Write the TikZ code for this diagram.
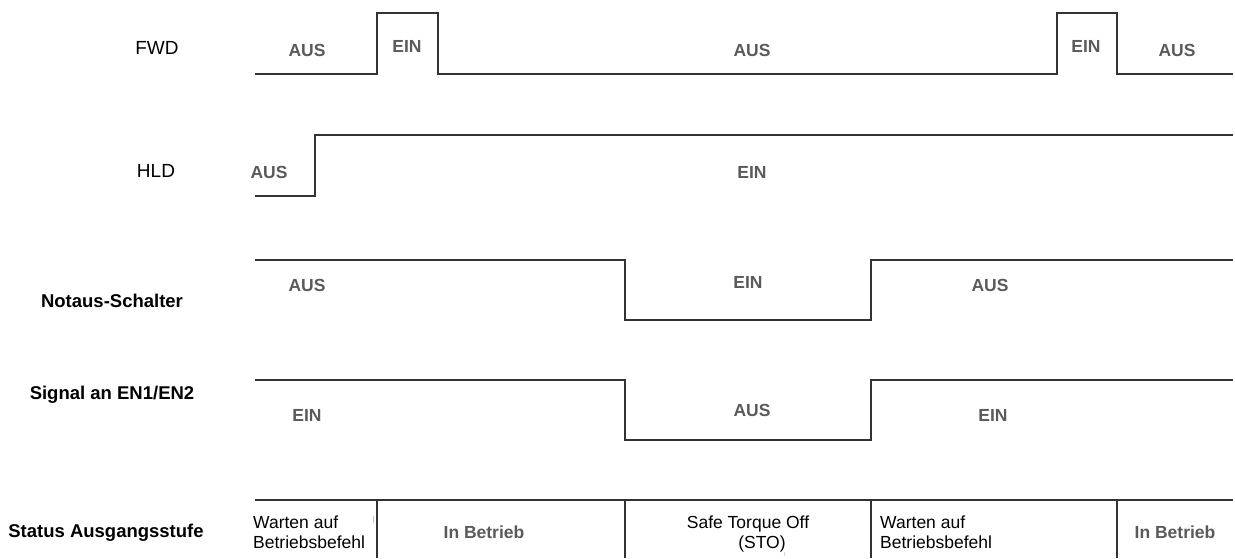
\documentclass[tikz,border=0pt]{standalone}
\usepackage{fontspec}
\setmainfont{Liberation Sans}
\definecolor{sigcol}{HTML}{333333}
\definecolor{stcol}{HTML}{5A5A5A}
\begin{document}
\begin{tikzpicture}[x=1pt,y=-1pt,
  sig/.style={draw=sigcol, line width=1.1pt},
  tick/.style={draw=black!25, line width=0.6pt},
  rowname/.style={font=\fontsize{19}{22}\selectfont, text=black, inner sep=0pt, anchor=base},
  browname/.style={font=\bfseries\fontsize{18.5}{22}\selectfont, text=black, inner sep=0pt, anchor=base},
  st/.style={font=\bfseries\fontsize{17.5}{20}\selectfont, text=stcol, inner sep=0pt, anchor=base},
  stat/.style={font=\fontsize{17.5}{20}\selectfont, text=black, inner sep=0pt, anchor=base west}]
\useasboundingbox (0,0) rectangle (1235,558);
% signals
\draw[sig] (255,74) -| (377,13) -| (438,74) -| (1057,13) -| (1117,74) -- (1233,74);
\draw[sig] (255,196) -| (315,135) -- (1233,135);
\draw[sig] (255,260) -| (625,320) -| (871,260) -- (1233,260);
\draw[sig] (255,380) -| (625,440) -| (871,380) -- (1233,380);
\draw[sig] (255,500) -- (1233,500);
\foreach \x in {377,625,871,1117} \draw[sig] (\x,500) -- (\x,558);
% small marks
\draw[tick] (373,516) -- (373,523);
\draw[tick] (785,552) -- (784,556);
% row names
\node[rowname] (nfwd) at (157,54) {FWD};
\node[rowname] (nhld) at (156,177) {HLD};
\node[browname] (nnot) at (112,307) {Notaus-Schalter};
\node[browname] (nsig) at (112,399) {Signal an EN1/EN2};
\node[browname] (nstat) at (106,537) {Status Ausgangsstufe};
% states
\node[st] (f1) at (307,56) {AUS};
\node[st] (f2) at (407,52) {EIN};
\node[st] (f3) at (752,56) {AUS};
\node[st] (f4) at (1086,52) {EIN};
\node[st] (f5) at (1177,56) {AUS};
\node[st] (h1) at (269,178) {AUS};
\node[st] (h2) at (752,178) {EIN};
\node[st] (n1) at (307,291) {AUS};
\node[st] (n2) at (748,288) {EIN};
\node[st] (n3) at (990,291) {AUS};
\node[st] (s1) at (307,421) {EIN};
\node[st] (s2) at (752,416) {AUS};
\node[st] (s3) at (993,421) {EIN};
% status
\node[stat] (w1a) at (253,528) {Warten auf};
\node[stat] (w1b) at (253,548) {Betriebsbefehl};
\node[st] (b1) at (484,538) {In Betrieb};
\node[stat,anchor=base] (sto1) at (748,528) {Safe Torque Off};
\node[stat,anchor=base] (sto2) at (762,548) {(STO)};
\node[stat] (w2a) at (880,528) {Warten auf};
\node[stat] (w2b) at (880,548) {Betriebsbefehl};
\node[st] (b2) at (1175,538) {In Betrieb};
\end{tikzpicture}
\end{document}
